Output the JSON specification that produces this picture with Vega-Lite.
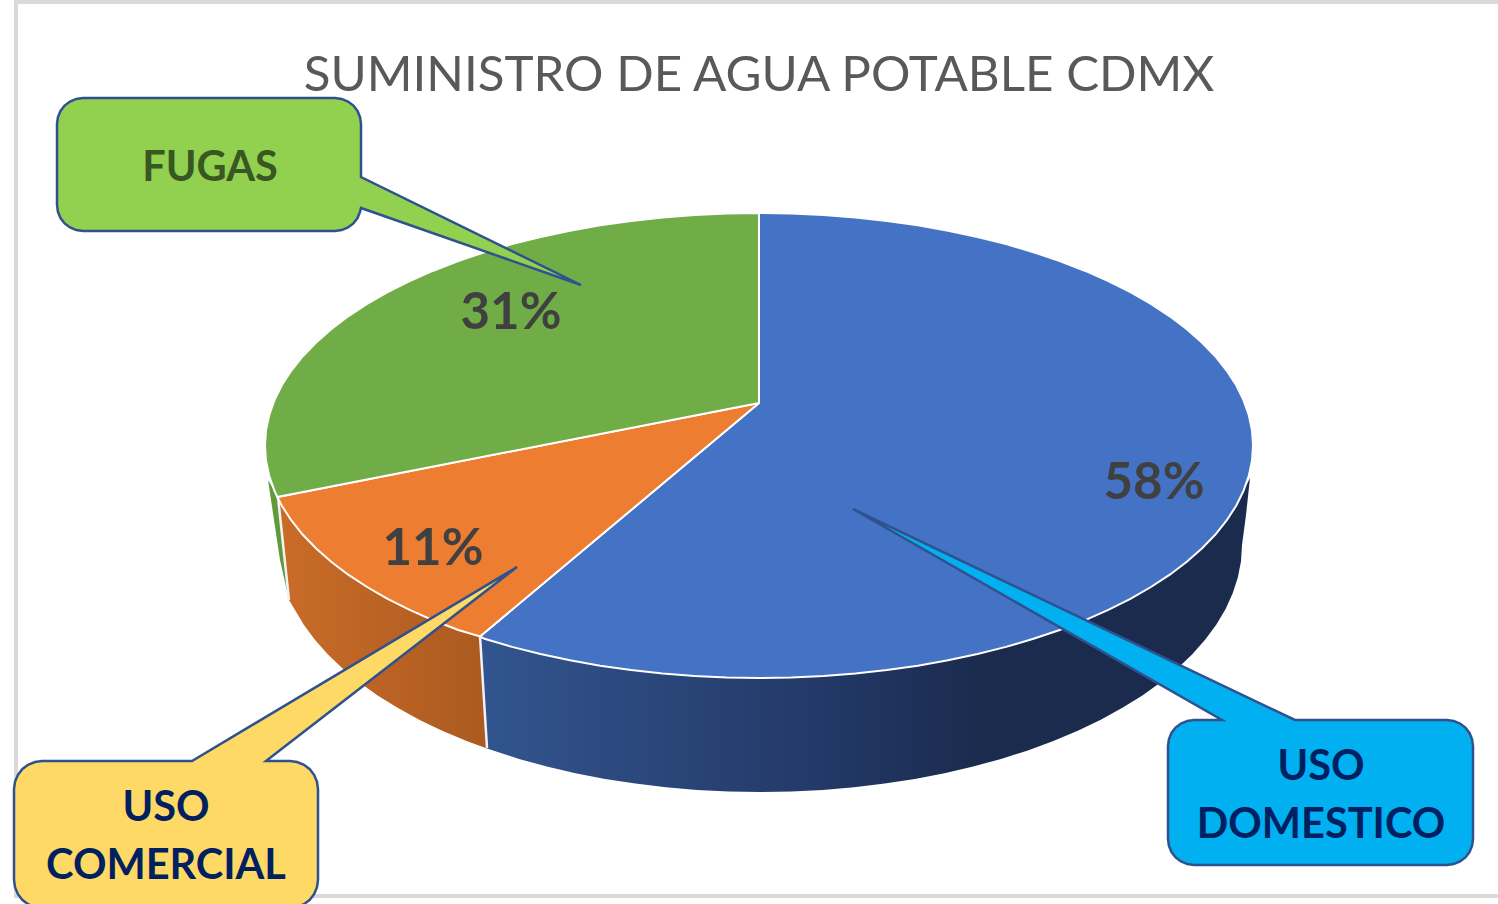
{
"$schema":"https://vega.github.io/schema/vega-lite/v6.json",
"width":1498,"height":904,"padding":0,"autosize":{"type":"none"},"background":"white",
"config":{"view":{"stroke":null}},
"title":{"text":"SUMINISTRO DE AGUA POTABLE CDMX","font":"Lato","fontSize":49.3,"fontWeight":"normal","color":"#595959","anchor":"middle","offset":-101,"dx":10},
"datasets":{
"frame":[{"x":16,"x2":1500,"y":2,"y2":896}],
"sideGreen":[{"x":268,"y":480},{"x":278,"y":497},{"x":289,"y":600},{"x":280,"y":560}],
"sideOrange":[{"x":278,"y":497},{"x":303,"y":534.5},{"x":331,"y":562},{"x":367,"y":587},{"x":410,"y":610},{"x":480,"y":636},{"x":487,"y":748.6},{"x":466.6,"y":741},{"x":442.2,"y":730.7},{"x":419.2,"y":719.7},{"x":397.6,"y":707.8},{"x":377.6,"y":695.4},{"x":359.2,"y":682.2},{"x":342.6,"y":668.5},{"x":327.7,"y":654.2},{"x":314.7,"y":639.5},{"x":303.6,"y":624.4},{"x":294.4,"y":608.9},{"x":289,"y":600}],
"sideBlue":[{"x":480,"y":636},{"x":512,"y":646.8},{"x":570,"y":660},{"x":631,"y":670},{"x":759,"y":678},{"x":887,"y":670},{"x":1006,"y":646.8},{"x":1108,"y":610},{"x":1187,"y":562},{"x":1236,"y":505},{"x":1250,"y":478},{"x":1246,"y":515},{"x":1242,"y":545},{"x":1241,"y":561.2},{"x":1237.9,"y":577.2},{"x":1232.7,"y":593.2},{"x":1225.6,"y":608.9},{"x":1216.4,"y":624.4},{"x":1205.3,"y":639.5},{"x":1192.3,"y":654.2},{"x":1177.4,"y":668.5},{"x":1160.8,"y":682.2},{"x":1142.4,"y":695.4},{"x":1122.4,"y":707.8},{"x":1100.8,"y":719.7},{"x":1077.8,"y":730.7},{"x":1053.4,"y":741},{"x":1027.8,"y":750.4},{"x":1001,"y":758.9},{"x":973.2,"y":766.5},{"x":944.5,"y":773.2},{"x":914.9,"y":778.9},{"x":884.7,"y":783.6},{"x":854,"y":787.3},{"x":822.9,"y":789.9},{"x":791.5,"y":791.5},{"x":760,"y":792},{"x":728.5,"y":791.5},{"x":697.1,"y":789.9},{"x":666,"y":787.3},{"x":635.3,"y":783.6},{"x":605.1,"y":778.9},{"x":575.5,"y":773.2},{"x":546.8,"y":766.5},{"x":519,"y":758.9},{"x":487,"y":748.6}],
"seams":[{"s":"a","x":480,"y":636},{"s":"a","x":487,"y":748},{"s":"b","x":278,"y":497},{"s":"b","x":289,"y":600}],
"sliceBlue":[{"x":759,"y":403},{"x":759,"y":213},{"x":791.3,"y":213.5},{"x":823.5,"y":215},{"x":855.4,"y":217.5},{"x":886.9,"y":220.9},{"x":917.8,"y":225.3},{"x":948,"y":230.7},{"x":977.5,"y":237},{"x":1006,"y":244.1},{"x":1033.5,"y":252.2},{"x":1059.7,"y":261},{"x":1084.7,"y":270.7},{"x":1108.3,"y":281.1},{"x":1130.4,"y":292.2},{"x":1150.9,"y":304},{"x":1169.8,"y":316.3},{"x":1186.8,"y":329.3},{"x":1202.1,"y":342.7},{"x":1215.4,"y":356.5},{"x":1226.8,"y":370.8},{"x":1236.2,"y":385.3},{"x":1243.5,"y":400.1},{"x":1248.8,"y":415.2},{"x":1252,"y":430.3},{"x":1253,"y":445.5},{"x":1252,"y":460.7},{"x":1248.8,"y":475.8},{"x":1243.5,"y":490.9},{"x":1236.2,"y":505.7},{"x":1226.8,"y":520.2},{"x":1215.4,"y":534.5},{"x":1202.1,"y":548.3},{"x":1186.8,"y":561.7},{"x":1169.8,"y":574.7},{"x":1150.9,"y":587},{"x":1130.4,"y":598.8},{"x":1108.3,"y":609.9},{"x":1084.7,"y":620.3},{"x":1059.7,"y":630},{"x":1033.5,"y":638.8},{"x":1006,"y":646.9},{"x":977.5,"y":654},{"x":948,"y":660.3},{"x":917.8,"y":665.7},{"x":886.9,"y":670.1},{"x":855.4,"y":673.5},{"x":823.5,"y":676},{"x":791.3,"y":677.5},{"x":759,"y":678},{"x":726.7,"y":677.5},{"x":694.5,"y":676},{"x":662.6,"y":673.5},{"x":631.1,"y":670.1},{"x":600.2,"y":665.7},{"x":570,"y":660.3},{"x":540.5,"y":654},{"x":512,"y":646.9},{"x":484.5,"y":638.8},{"x":480,"y":636.5}],
"sliceOrange":[{"x":759,"y":403},{"x":480,"y":636.5},{"x":458.3,"y":630},{"x":433.3,"y":620.3},{"x":409.7,"y":609.9},{"x":387.6,"y":598.8},{"x":367.1,"y":587},{"x":348.2,"y":574.7},{"x":331.2,"y":561.7},{"x":315.9,"y":548.3},{"x":302.6,"y":534.5},{"x":291.2,"y":520.2},{"x":281.8,"y":505.7},{"x":277.3,"y":497}],
"sliceGreen":[{"x":759,"y":403},{"x":277.3,"y":497},{"x":274.5,"y":490.9},{"x":269.2,"y":475.8},{"x":266,"y":460.7},{"x":265,"y":445.5},{"x":266,"y":430.3},{"x":269.2,"y":415.2},{"x":274.5,"y":400.1},{"x":281.8,"y":385.3},{"x":291.2,"y":370.8},{"x":302.6,"y":356.5},{"x":315.9,"y":342.7},{"x":331.2,"y":329.3},{"x":348.2,"y":316.3},{"x":367.1,"y":304},{"x":387.6,"y":292.2},{"x":409.7,"y":281.1},{"x":433.3,"y":270.7},{"x":458.3,"y":261},{"x":484.5,"y":252.2},{"x":512,"y":244.1},{"x":540.5,"y":237},{"x":570,"y":230.7},{"x":600.2,"y":225.3},{"x":631.1,"y":220.9},{"x":662.6,"y":217.5},{"x":694.5,"y":215},{"x":726.7,"y":213.5},{"x":759,"y":213}],
"calloutFugas":[{"x":57,"y":124},{"x":57.9,"y":117.3},{"x":60.5,"y":111},{"x":64.6,"y":105.6},{"x":70,"y":101.5},{"x":76.3,"y":98.9},{"x":83,"y":98},{"x":335,"y":98},{"x":341.7,"y":98.9},{"x":348,"y":101.5},{"x":353.4,"y":105.6},{"x":357.5,"y":111},{"x":360.1,"y":117.3},{"x":361,"y":124},{"x":361,"y":177},{"x":581,"y":285},{"x":361,"y":208},{"x":360.1,"y":211.7},{"x":357.5,"y":218},{"x":353.4,"y":223.4},{"x":348,"y":227.5},{"x":341.7,"y":230.1},{"x":335,"y":231},{"x":83,"y":231},{"x":76.3,"y":230.1},{"x":70,"y":227.5},{"x":64.6,"y":223.4},{"x":60.5,"y":218},{"x":57.9,"y":211.7},{"x":57,"y":205}],
"calloutComercial":[{"x":14,"y":789},{"x":15,"y":781.9},{"x":17.8,"y":775},{"x":22.2,"y":769.2},{"x":28,"y":764.8},{"x":34.9,"y":762},{"x":42,"y":761},{"x":192,"y":761},{"x":517,"y":567},{"x":266,"y":761},{"x":290,"y":761},{"x":297.1,"y":762},{"x":304,"y":764.8},{"x":309.8,"y":769.2},{"x":314.2,"y":775},{"x":317,"y":781.9},{"x":318,"y":789},{"x":318,"y":880},{"x":317,"y":887.1},{"x":314.2,"y":894},{"x":309.8,"y":899.8},{"x":304,"y":904.2},{"x":297.1,"y":907},{"x":290,"y":908},{"x":42,"y":908},{"x":34.9,"y":907},{"x":28,"y":904.2},{"x":22.2,"y":899.8},{"x":17.8,"y":894},{"x":15,"y":887.1},{"x":14,"y":880}],
"calloutDomestico":[{"x":1168,"y":746},{"x":1168.9,"y":739.3},{"x":1171.5,"y":733},{"x":1175.6,"y":727.6},{"x":1181,"y":723.5},{"x":1187.3,"y":720.9},{"x":1194,"y":720},{"x":1222,"y":720},{"x":853,"y":509},{"x":1295,"y":720},{"x":1447,"y":720},{"x":1453.7,"y":720.9},{"x":1460,"y":723.5},{"x":1465.4,"y":727.6},{"x":1469.5,"y":733},{"x":1472.1,"y":739.3},{"x":1473,"y":746},{"x":1473,"y":839},{"x":1472.1,"y":845.7},{"x":1469.5,"y":852},{"x":1465.4,"y":857.4},{"x":1460,"y":861.5},{"x":1453.7,"y":864.1},{"x":1447,"y":865},{"x":1194,"y":865},{"x":1187.3,"y":864.1},{"x":1181,"y":861.5},{"x":1175.6,"y":857.4},{"x":1171.5,"y":852},{"x":1168.9,"y":845.7},{"x":1168,"y":839}],
"shares":[{"category":"USO DOMESTICO","value":58,"label":"58%","x":1154,"y":484},{"category":"FUGAS","value":31,"label":"31%","x":511,"y":314},{"category":"USO COMERCIAL","value":11,"label":"11%","x":433,"y":550}],
"captions":[{"label":"FUGAS","x":210,"y":169,"c":"g"},{"label":"USO","x":166,"y":809,"c":"n"},{"label":"COMERCIAL","x":166,"y":867,"c":"n"},{"label":"USO","x":1321,"y":768,"c":"n"},{"label":"DOMESTICO","x":1321,"y":826,"c":"n"}]
},
"encoding":{
"x":{"field":"x","type":"quantitative","scale":{"domain":[0,1498],"nice":false,"zero":false},"axis":null},
"y":{"field":"y","type":"quantitative","scale":{"domain":[904,0],"nice":false,"zero":false},"axis":null}
},
"layer":[
{"data":{"name":"frame"},"mark":{"type":"rect","fill":null,"stroke":"#d9d9d9","strokeWidth":4},"encoding":{"x2":{"field":"x2"},"y2":{"field":"y2"}}},
{"data":{"name":"sideGreen"},"mark":{"type":"line","filled":true,"interpolate":"linear-closed","fill":"#5f9a3b","stroke":null},"encoding":{"order":{"value":null}}},
{"data":{"name":"sideOrange"},"mark":{"type":"line","filled":true,"interpolate":"linear-closed","stroke":null,"fill":{"gradient":"linear","x1":0,"y1":0,"x2":1,"y2":0,"stops":[{"offset":0,"color":"#ca6c28"},{"offset":1,"color":"#ab5a20"}]}},"encoding":{"order":{"value":null}}},
{"data":{"name":"sideBlue"},"mark":{"type":"line","filled":true,"interpolate":"linear-closed","stroke":null,"fill":{"gradient":"linear","x1":0,"y1":0,"x2":1,"y2":0,"stops":[{"offset":0,"color":"#32558f"},{"offset":0.45,"color":"#233866"},{"offset":0.65,"color":"#1a2b4e"},{"offset":1,"color":"#1a2b4e"}]}},"encoding":{"order":{"value":null}}},
{"data":{"name":"seams"},"mark":{"type":"line","stroke":"#f2f2f2","strokeWidth":2.5},"encoding":{"order":{"value":null},"detail":{"field":"s"}}},
{"data":{"name":"sliceBlue"},"mark":{"type":"line","filled":true,"interpolate":"linear-closed","fill":"#4472c4","stroke":"#ffffff","strokeWidth":2},"encoding":{"order":{"value":null}}},
{"data":{"name":"sliceOrange"},"mark":{"type":"line","filled":true,"interpolate":"linear-closed","fill":"#ed7d31","stroke":"#ffffff","strokeWidth":2},"encoding":{"order":{"value":null}}},
{"data":{"name":"sliceGreen"},"mark":{"type":"line","filled":true,"interpolate":"linear-closed","fill":"#70ad47","stroke":"#ffffff","strokeWidth":2},"encoding":{"order":{"value":null}}},
{"data":{"name":"shares"},"mark":{"type":"text","font":"Lato","fontWeight":"bold","fontSize":51,"color":"#404040","baseline":"middle","align":"center"},"encoding":{"text":{"field":"label"}}},
{"data":{"name":"calloutFugas"},"mark":{"type":"line","filled":true,"interpolate":"linear-closed","fill":"#92d050","stroke":"#2f528f","strokeWidth":2.5},"encoding":{"order":{"value":null}}},
{"data":{"name":"calloutComercial"},"mark":{"type":"line","filled":true,"interpolate":"linear-closed","fill":"#ffd966","stroke":"#2f528f","strokeWidth":2.5},"encoding":{"order":{"value":null}}},
{"data":{"name":"calloutDomestico"},"mark":{"type":"line","filled":true,"interpolate":"linear-closed","fill":"#00b0f0","stroke":"#2f528f","strokeWidth":2.5},"encoding":{"order":{"value":null}}},
{"data":{"name":"captions"},"mark":{"type":"text","font":"Lato","fontWeight":"bold","fontSize":41.5,"baseline":"middle","align":"center"},"encoding":{"text":{"field":"label"},"color":{"field":"c","type":"nominal","legend":null,"scale":{"domain":["g","n"],"range":["#385723","#002060"]}}}}
]
}
